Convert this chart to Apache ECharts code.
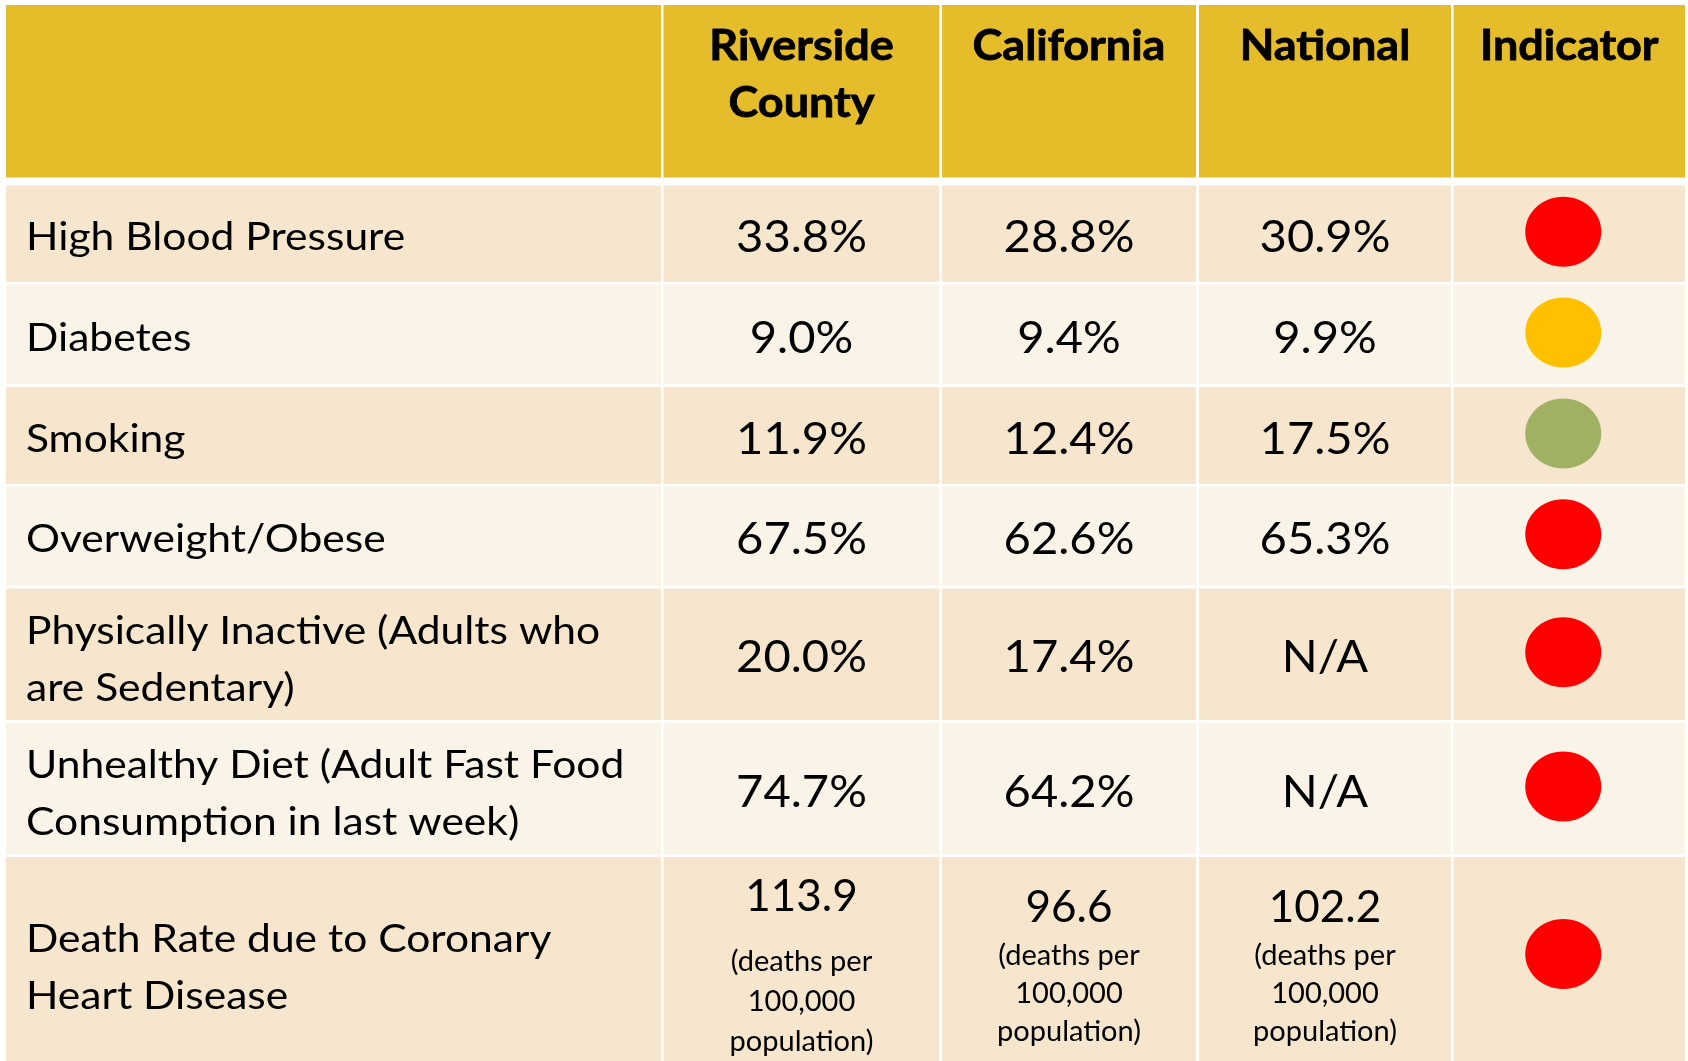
<!DOCTYPE html>
<html>
<head>
<meta charset="utf-8">
<title>Heart disease risk indicators</title>
<script src="https://cdn.jsdelivr.net/npm/echarts@6/dist/echarts.min.js"></script>
<style>
  html, body { margin: 0; background: #fff; }
  #main { width: 1688px; height: 1061px; }
</style>
</head>
<body>
<div id="main"></div>
<script>
// table data
const headers = ['', 'Riverside\nCounty', 'California', 'National', 'Indicator'];
const indicators = [
  'High Blood Pressure',
  'Diabetes',
  'Smoking',
  'Overweight/Obese',
  'Physically Inactive (Adults who\nare Sedentary)',
  'Unhealthy Diet (Adult Fast Food\nConsumption in last week)',
  'Death Rate due to Coronary\nHeart Disease'
];
const riverside = [33.8, 9.0, 11.9, 67.5, 20.0, 74.7, 113.9];
const california = [28.8, 9.4, 12.4, 62.6, 17.4, 64.2, 96.6];
const national = [30.9, 9.9, 17.5, 65.3, null, null, 102.2];
const units = ['%', '%', '%', '%', '%', '%', 'rate'];
const rateNote = '(deaths per\n100,000\npopulation)';
const status = ['red', 'yellow', 'green', 'red', 'red', 'red', 'red'];

// layout (axis units)
const colWidths = [655, 276, 254, 252, 231.5];
const colGaps = [2.5, 2.5, 3, 2.5];
const rowHeights = [172.5, 96.5, 99.5, 97, 99.2, 131.4, 131.7, 204];
const headerGap = 8;
const rowGap = 2.7;

const colLefts = [];
colWidths.reduce((acc, w, i) => { colLefts.push(acc); return acc + w + (colGaps[i] || 0); }, 0);
const rowTops = [];
rowHeights.reduce((acc, h, i) => { rowTops.push(acc); return acc + h + (i === 0 ? headerGap : rowGap); }, 0);
const totalW = colLefts[colLefts.length - 1] + colWidths[colWidths.length - 1];
const totalH = rowTops[rowTops.length - 1] + rowHeights[rowHeights.length - 1];
const lastRow = rowHeights.length - 1;

const FONT = 'Lato, "Open Sans", sans-serif';
const colors = {
  header: '#E5BD2A',
  dark: '#F6E6CD',
  light: '#FAF3E8',
  red: '#FF0000',
  yellow: '#FFC000',
  green: '#A0B163'
};
// last row: value + note positions per value column (offset from cell top)
const rateLayout = [
  { value: 40, note: 105, lh: 40 },
  { value: 51, note: 99, lh: 38 },
  { value: 51, note: 99, lh: 38 }
];
// last row is cut by the page edge: label / dot centres from its top
const lastRowLayout = { label: 111, dot: 97 };

function fmt(v, unit) {
  if (v == null) return 'N/A';
  return unit === '%' ? v.toFixed(1) + '%' : v.toFixed(1);
}

function renderRow(params, api) {
  const r = api.value(1);
  const top = rowTops[r];
  const bottom = top + rowHeights[r];
  const children = [];
  const fill = r === 0 ? colors.header : (r % 2 ? colors.dark : colors.light);

  colLefts.forEach((left, c) => {
    const p0 = api.coord([left, top]);
    const p1 = api.coord([left + colWidths[c], bottom]);
    const cx = (p0[0] + p1[0]) / 2;
    const midY = (p0[1] + p1[1]) / 2;
    children.push({
      type: 'rect',
      shape: { x: p0[0], y: p0[1], width: p1[0] - p0[0], height: p1[1] - p0[1] },
      style: { fill: fill }
    });

    if (r === 0) {
      if (headers[c]) {
        children.push({
          type: 'text', x: cx, y: p0[1] + 13, scaleX: 1.07,
          style: {
            text: headers[c], fill: '#000', align: 'center', verticalAlign: 'top',
            fontFamily: FONT, fontWeight: 'bold', fontSize: 42, lineHeight: 57,
            stroke: '#000', lineWidth: 0.8
          }
        });
      }
      return;
    }

    const i = r - 1;
    if (c === 0) {
      const twoLines = indicators[i].indexOf('\n') >= 0;
      const ly = r === lastRow ? p0[1] + lastRowLayout.label : midY + (twoLines ? 6 : 4);
      children.push({
        type: 'text', x: p0[0] + 20, y: ly, scaleX: 1.12,
        style: {
          text: indicators[i], fill: '#000', align: 'left', verticalAlign: 'middle',
          fontFamily: FONT, fontSize: 38, lineHeight: 57
        }
      });
    } else if (c <= 3) {
      const v = [riverside, california, national][c - 1][i];
      const label = fmt(v, units[i]);
      if (units[i] === 'rate') {
        const lay = rateLayout[c - 1];
        children.push({
          type: 'text', x: cx, y: p0[1] + lay.value,
          style: {
            text: label, fill: '#000', align: 'center', verticalAlign: 'middle',
            fontFamily: FONT, fontSize: 44
          }
        });
        children.push({
          type: 'text', x: cx, y: p0[1] + lay.note - lay.lh / 2,
          style: {
            text: rateNote, fill: '#000', align: 'center', verticalAlign: 'top',
            fontFamily: FONT, fontSize: 29, lineHeight: lay.lh
          }
        });
      } else {
        children.push({
          type: 'text', x: cx, y: midY + 4, scaleX: 1.07,
          style: {
            text: label, fill: '#000', align: 'center', verticalAlign: 'middle',
            fontFamily: FONT, fontSize: 44
          }
        });
      }
    } else {
      const dy = r === lastRow ? p0[1] + lastRowLayout.dot : midY - 2;
      children.push({
        type: 'ellipse',
        shape: { cx: cx - 6, cy: dy, rx: 38, ry: 35 },
        style: { fill: colors[status[i]] }
      });
    }
  });
  return { type: 'group', children: children };
}

const chart = echarts.init(document.getElementById('main'));
chart.setOption({
  animation: false,
  backgroundColor: '#fff',
  grid: { left: 6, top: 5, width: totalW, height: totalH },
  xAxis: { type: 'value', min: 0, max: totalW, show: false },
  yAxis: { type: 'value', min: 0, max: totalH, inverse: true, show: false },
  series: [{
    type: 'custom',
    renderItem: renderRow,
    data: rowHeights.map((h, r) => [0, r])
  }]
});
</script>
</body>
</html>
